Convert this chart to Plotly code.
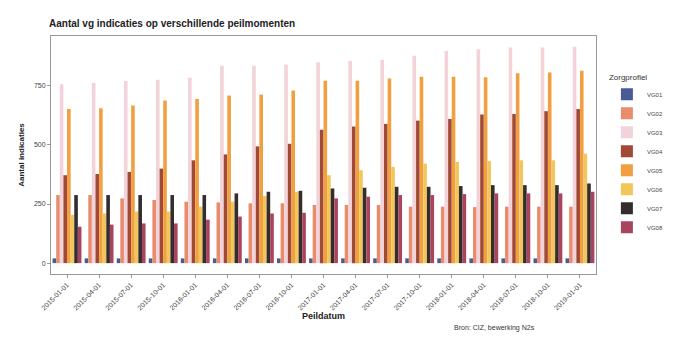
import plotly.graph_objects as go

peildata = ["2015-01-01", "2015-04-01", "2015-07-01", "2015-10-01",
            "2016-01-01", "2016-04-01", "2016-07-01", "2016-10-01",
            "2017-01-01", "2017-04-01", "2017-07-01", "2017-10-01",
            "2018-01-01", "2018-04-01", "2018-07-01", "2018-10-01",
            "2019-01-01"]

vg01 = [20, 20, 20, 20, 20, 20, 20, 20, 20, 20, 20, 20, 20, 20, 20, 20, 20]
vg02 = [288, 288, 274, 267, 260, 257, 253, 253, 246, 246, 246, 239, 239, 237, 239, 239, 239]
vg03 = [757, 762, 771, 776, 785, 835, 835, 840, 850, 855, 860, 877, 898, 905, 912, 912, 915]
vg04 = [372, 377, 386, 400, 435, 460, 494, 505, 564, 578, 589, 603, 610, 629, 631, 643, 652]
vg05 = [652, 655, 667, 688, 695, 709, 713, 730, 772, 772, 781, 789, 789, 786, 803, 807, 814]
vg06 = [204, 210, 218, 218, 239, 260, 284, 302, 372, 393, 407, 421, 428, 432, 435, 435, 463]
vg07 = [288, 288, 288, 288, 288, 295, 302, 306, 316, 319, 323, 323, 326, 330, 330, 330, 337]
vg08 = [154, 163, 168, 168, 184, 197, 210, 213, 274, 281, 288, 288, 292, 295, 295, 295, 302]

series_names = ["VG01", "VG02", "VG03", "VG04", "VG05", "VG06", "VG07", "VG08"]
series_values = [vg01, vg02, vg03, vg04, vg05, vg06, vg07, vg08]
colors = ["#4a5a95", "#e98c6e", "#f1d3d9", "#a04a36", "#f0a040",
          "#f3c65a", "#332d30", "#a8445e"]

fig = go.Figure()
for name, vals, col in zip(series_names, series_values, colors):
    fig.add_trace(go.Bar(name=name, x=peildata, y=vals,
                         marker=dict(color=col, line=dict(width=0))))

font_fam = "Liberation Sans, Arial, sans-serif"
fig.update_layout(
    width=673, height=338,
    barmode="group", bargap=0.1, bargroupgap=0,
    paper_bgcolor="white", plot_bgcolor="white",
    margin=dict(l=41, r=73, t=28, b=72),
    font=dict(family=font_fam, size=8, color="#333333"),
    title=dict(text="<b>Aantal vg indicaties op verschillende peilmomenten</b>",
               x=41/673, xanchor="left", y=0.955, yanchor="middle",
               font=dict(size=10, color="#222222")),
    legend=dict(title=dict(text="Zorgprofiel", font=dict(size=8, color="#333333")),
                x=1.02, xanchor="left", y=0.86, yanchor="top",
                font=dict(size=6, color="#444444"), itemwidth=30,
                tracegroupgap=0, bgcolor="rgba(0,0,0,0)"),
    xaxis=dict(title=dict(text="<b>Peildatum</b>", font=dict(size=9, color="#222222"),
                          standoff=0),
               tickangle=-45, tickfont=dict(size=7, color="#444444"),
               showline=True, linecolor="#999999", mirror=True, linewidth=1,
               ticks="outside", ticklen=3, tickcolor="#999999",
               showgrid=False, type="category"),
    yaxis=dict(title=dict(text="<b>Aantal indicaties</b>", font=dict(size=8, color="#222222"),
                          standoff=8),
               range=[-46, 961], tickvals=[0, 250, 500, 750],
               tickfont=dict(size=7, color="#444444"),
               showline=True, linecolor="#999999", mirror=True, linewidth=1,
               ticks="outside", ticklen=3, tickcolor="#999999",
               showgrid=False, zeroline=False),
    annotations=[dict(text="Bron: CIZ, bewerking N2s", x=600/673, xref="paper",
                      xanchor="right", y=-0.225, yref="paper", yanchor="middle",
                      showarrow=False, font=dict(size=7, color="#333333"))],
)

fig.write_html("out.html")
